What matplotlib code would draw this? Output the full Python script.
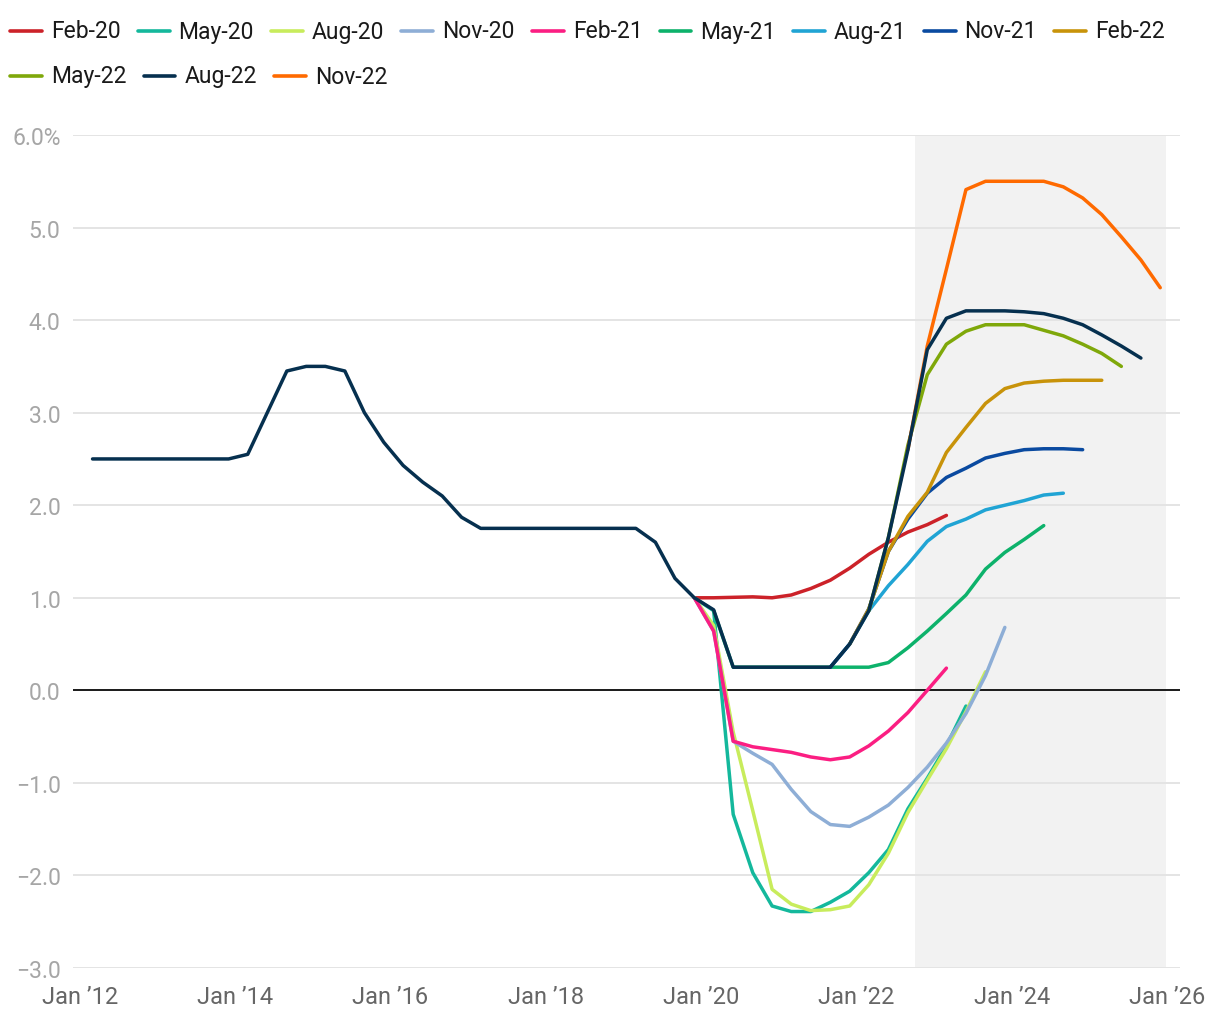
import matplotlib
matplotlib.use('Agg')
import matplotlib.pyplot as plt
from matplotlib.lines import Line2D
from matplotlib.ticker import FixedLocator, FuncFormatter
import pandas as pd
import numpy as np

plt.rcParams['font.family'] = ['Roboto', 'DejaVu Sans']

# ---------------- data ----------------
quarters = pd.date_range('2012-02-29', periods=56, freq='3ME')  # Feb-12 ... Nov-25

# Actual quarterly rate, Feb-12 .. May-22
history = [2.5, 2.5, 2.5, 2.5, 2.5, 2.5, 2.5, 2.5,
           2.55, 3.0, 3.45, 3.5, 3.5, 3.45, 3.0, 2.68, 2.43, 2.25, 2.1, 1.87,
           1.75, 1.75, 1.75, 1.75, 1.75, 1.75, 1.75, 1.75, 1.75,
           1.6, 1.21, 1.0, 0.87,
           0.25, 0.25, 0.25, 0.25, 0.25, 0.25,
           0.5, 0.86, 1.65]

feb20_start = '2019-11'
feb20 = [1.0, 1.0, 1.005, 1.01, 1.0, 1.03, 1.1, 1.19, 1.32, 1.47, 1.6, 1.71, 1.79, 1.89]
may20_start = '2019-11'
may20 = [1.0, 0.86, -1.34, -1.97, -2.33, -2.39, -2.39, -2.29, -2.17, -1.97, -1.72,
         -1.28, -0.95, -0.6, -0.17]
aug20_start = '2019-11'
aug20 = [1.0, 0.7, -0.45, -1.3, -2.15, -2.31, -2.38, -2.37, -2.33, -2.1, -1.76,
         -1.32, -0.97, -0.63, -0.23, 0.2]
nov20_start = '2019-11'
nov20 = [1.0, 0.64, -0.55, -0.68, -0.80, -1.07, -1.31, -1.45, -1.47, -1.37, -1.24,
         -1.05, -0.83, -0.57, -0.25, 0.16, 0.68]
feb21_start = '2019-11'
feb21 = [1.0, 0.64, -0.55, -0.61, -0.64, -0.67, -0.72, -0.75, -0.72, -0.6, -0.44,
         -0.24, 0.0, 0.24]
may21_start = '2020-02'
may21 = [0.86, 0.25, 0.25, 0.25, 0.25, 0.25, 0.25, 0.25, 0.25, 0.3, 0.46, 0.64,
         0.83, 1.03, 1.31, 1.49, 1.63, 1.78]
aug21_start = '2021-08'
aug21 = [0.25, 0.5, 0.86, 1.13, 1.36, 1.61, 1.77, 1.85, 1.95, 2.0, 2.05, 2.11, 2.13]
nov21_start = '2021-08'
nov21 = [0.25, 0.5, 0.88, 1.5, 1.85, 2.13, 2.3, 2.4, 2.51, 2.56, 2.6, 2.61, 2.61, 2.6]
feb22_start = '2021-11'
feb22 = [0.5, 0.88, 1.5, 1.88, 2.14, 2.57, 2.84, 3.1, 3.26, 3.32, 3.34, 3.35, 3.35, 3.35]
may22_start = '2022-02'
may22 = [0.86, 1.65, 2.65, 3.41, 3.74, 3.88, 3.95, 3.95, 3.95, 3.89, 3.83, 3.74, 3.64, 3.5]
aug22_start = '2012-02'
aug22 = history + [2.6, 3.68, 4.02, 4.1, 4.1, 4.1, 4.09, 4.07, 4.02, 3.95, 3.84, 3.72, 3.59]
nov22_start = '2022-08'
nov22 = [2.6, 3.72, 4.55, 5.41, 5.5, 5.5, 5.5, 5.5, 5.44, 5.32, 5.14, 4.9, 4.65, 4.35]

labels = ['Feb-20', 'May-20', 'Aug-20', 'Nov-20', 'Feb-21', 'May-21',
          'Aug-21', 'Nov-21', 'Feb-22', 'May-22', 'Aug-22', 'Nov-22']
colors = ['#cc2229', '#14b89c', '#c8ec5c', '#8eaed6', '#fb1e82', '#0db26b',
          '#20a4d4', '#0a4aa0', '#c8930a', '#7fa80a', '#06304f', '#ff6a00']
starts = [feb20_start, may20_start, aug20_start, nov20_start, feb21_start, may21_start,
          aug21_start, nov21_start, feb22_start, may22_start, aug22_start, nov22_start]
values = [feb20, may20, aug20, nov20, feb21, may21, aug21, nov21, feb22, may22, aug22, nov22]

forecast_from = '2022-10-01'
forecast_to = '2025-12-28'

yticks = [-3, -2, -1, 0, 1, 2, 3, 4, 5, 6]
xtick_years = [2012, 2014, 2016, 2018, 2020, 2022, 2024, 2026]

# ---------------- figure ----------------
W, H = 1220, 1020
fig = plt.figure(figsize=(W / 100, H / 100), dpi=100)
ax = fig.add_axes([73 / W, 51 / H, 1107 / W, 833 / H])

ax.axvspan(pd.Timestamp(forecast_from), pd.Timestamp(forecast_to), color='#f2f2f2', zorder=0, lw=0)

qpos = pd.Series(range(len(quarters)), index=quarters.strftime('%Y-%m'))
zorders = {'Aug-22': 20, 'Nov-22': 15}
for lab, col, st, vals in zip(labels, colors, starts, values):
    i0 = qpos[st]
    xs = quarters[i0:i0 + len(vals)]
    ax.plot(xs, vals, color=col, lw=2.5, solid_joinstyle='round', solid_capstyle='round',
            zorder=zorders.get(lab, 5))

ax.axhline(0, color='#1a1a1a', lw=1.4, zorder=4)

ax.set_ylim(-3, 6)
ax.set_xlim(pd.Timestamp('2011-11-29'), pd.Timestamp('2026-03-03'))
ax.yaxis.set_major_locator(FixedLocator(yticks))


def yfmt(v, pos):
    s = f'{abs(v):.1f}'
    if v < 0:
        s = '\u2212' + s
    if v == 6:
        s += '%'
    return s


ax.yaxis.set_major_formatter(FuncFormatter(yfmt))
ax.set_xticks([pd.Timestamp(f'{y}-01-01') for y in xtick_years])
ax.set_xticklabels([f"Jan \u2019{str(y)[2:]}" for y in xtick_years])
ax.grid(axis='y', color='#e4e4e4', lw=1.4, zorder=1)
ax.set_axisbelow(True)
for s in ax.spines.values():
    s.set_visible(False)
ax.tick_params(axis='both', length=0)
ax.tick_params(axis='y', labelsize=16.5, labelcolor='#a6a6a6', pad=9)
ax.tick_params(axis='x', labelsize=17, labelcolor='#666666', pad=12)

# ---------------- legend (flow layout) ----------------
fig.canvas.draw()
renderer = fig.canvas.get_renderer()
row_y = [32, 77]
x = 10
for i, (lab, col) in enumerate(zip(labels, colors)):
    row = 0 if i < 9 else 1
    if i == 9:
        x = 10
    yy = H - row_y[row]
    fig.add_artist(Line2D([x / W, (x + 32) / W], [yy / H, yy / H], transform=fig.transFigure,
                          color=col, lw=2.6, solid_capstyle='round'))
    t = fig.text((x + 41) / W, yy / H, lab, ha='left', va='center', fontsize=16.5, color='#1a1a1a')
    w = t.get_window_extent(renderer).width
    x += 41 + w + 17

fig.savefig('out.png', dpi=100)
